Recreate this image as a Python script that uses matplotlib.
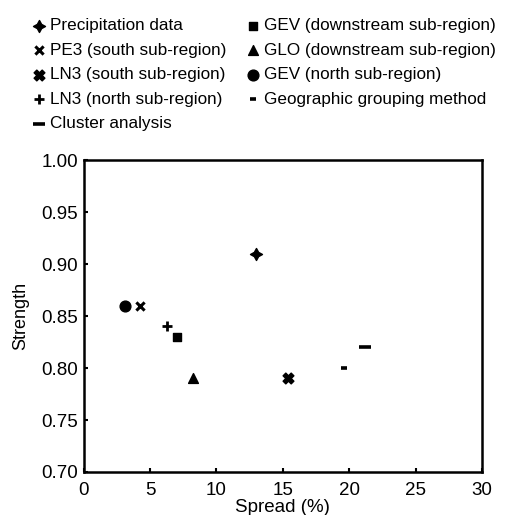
import matplotlib
matplotlib.use("Agg")
import matplotlib.pyplot as plt

plt.rcParams['font.family'] = ['Liberation Sans', 'DejaVu Sans']

labels = ["Precipitation data", "PE3 (south sub-region)", "LN3 (south sub-region)",
          "LN3 (north sub-region)", "Cluster analysis", "GEV (downstream sub-region)",
          "GLO (downstream sub-region)", "GEV (north sub-region)", "Geographic grouping method"]
spread = [13.0, 4.2, 15.4, 6.3, 21.2, 7.0, 8.2, 3.1, 19.6]
strength = [0.91, 0.86, 0.79, 0.84, 0.82, 0.83, 0.79, 0.86, 0.80]

styles = [
    dict(marker=(4, 1, 0), s=75),
    dict(marker='x', s=35, linewidths=2.2),
    dict(marker='X', s=60),
    dict(marker='+', s=45, linewidths=2.0),
    dict(marker='_', s=80, linewidths=2.6),
    dict(marker='s', s=33),
    dict(marker='^', s=50),
    dict(marker='o', s=60),
    dict(marker='_', s=25, linewidths=2.6),
]

fig = plt.figure(figsize=(5.11, 5.15), dpi=100)
ax = fig.add_axes([0.164, 0.0835, 0.779, 0.6055])
handles = []
for lab, x, y, st in zip(labels, spread, strength, styles):
    h = ax.scatter([x], [y], color='black', label=lab, **st)
    handles.append(h)

ax.set_xlim(0, 30)
ax.set_ylim(0.70, 1.00)
ax.set_xticks([0, 5, 10, 15, 20, 25, 30])
ax.set_yticks([0.70, 0.75, 0.80, 0.85, 0.90, 0.95, 1.00])
ax.set_yticklabels(["0.70", "0.75", "0.80", "0.85", "0.90", "0.95", "1.00"])
ax.tick_params(direction='in', labelsize=13.5, length=3, width=1.5)
ax.tick_params(axis='x', pad=7)
ax.tick_params(axis='y', pad=4)
for sp in ax.spines.values():
    sp.set_linewidth(1.8)
ax.set_xlabel("Spread (%)", fontsize=13.5, labelpad=0)
ax.set_ylabel("Strength", fontsize=13, labelpad=9)

fig.legend(handles=handles, loc='upper left', bbox_to_anchor=(0.047, 0.978), ncol=2,
           frameon=False, fontsize=12.3, handletextpad=0.1, handlelength=1.0,
           columnspacing=1.1, labelspacing=0.56, borderaxespad=0, scatterpoints=1)

fig.savefig("out.png", dpi=100)
